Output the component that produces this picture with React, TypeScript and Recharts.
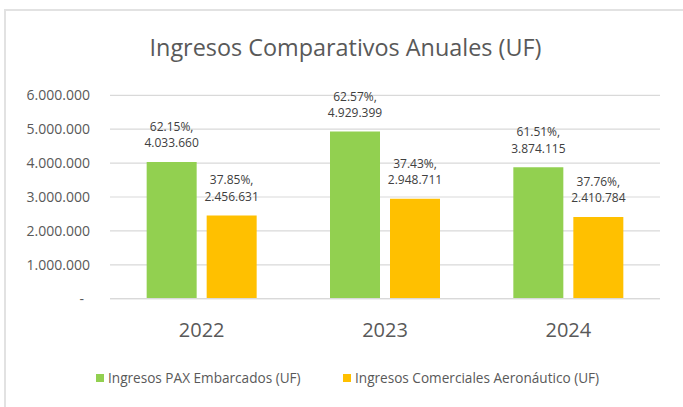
import React from 'react';
import { BarChart, Bar, XAxis, YAxis, CartesianGrid, Legend, LabelList } from 'recharts';

const years = ['2022', '2023', '2024'];
const paxValues = [4033660, 4929399, 3874115];
const comValues = [2456631, 2948711, 2410784];
const paxPct = [62.15, 62.57, 61.51];
const comPct = [37.85, 37.43, 37.76];
const yTicks = [0, 1000000, 2000000, 3000000, 4000000, 5000000, 6000000];
const seriesNames = ['Ingresos PAX Embarcados (UF)', 'Ingresos Comerciales Aeronáutico (UF)'];
const title = 'Ingresos Comparativos Anuales (UF)';

const data = years.map((y, i) => ({ year: y, pax: paxValues[i], com: comValues[i] }));

const FONT = '"Open Sans", "Noto Sans", sans-serif';
const GREEN = '#92D050';
const ORANGE = '#FFC000';

const fmt = (v: number) => String(Math.round(v)).replace(/\B(?=(\d{3})+(?!\d))/g, '.');

const YTick = (props: any) => {
  const { x, y, payload } = props;
  const v = payload.value as number;
  return (
    <text
      x={v === 0 ? x - 6 : x}
      y={y}
      dy={4.8}
      textAnchor="end"
      fill="#595959"
      fontSize={14}
      fontFamily={FONT}
    >
      {v === 0 ? '-' : fmt(v)}
    </text>
  );
};

const makeLabel = (pcts: number[]) => (props: any) => {
  const { x, y, width, value, index } = props;
  const cx = x + width / 2;
  return (
    <text textAnchor="middle" fill="#404040" fontSize={12} fontFamily={FONT}>
      <tspan x={cx} y={y - 31}>{pcts[index].toFixed(2) + '%,'}</tspan>
      <tspan x={cx} y={y - 14.5}>{fmt(value)}</tspan>
    </text>
  );
};

const legendLefts = [96, 343];

const renderLegend = () => (
  <div style={{ position: 'relative', width: 683, height: 24 }}>
    {seriesNames.map((name, i) => (
      <div
        key={name}
        style={{
          position: 'absolute',
          left: legendLefts[i],
          top: 0,
          display: 'flex',
          alignItems: 'center',
          fontFamily: FONT,
          fontSize: 13.6,
          color: '#595959',
          whiteSpace: 'nowrap',
          lineHeight: '18px',
        }}
      >
        <span
          style={{
            display: 'inline-block',
            width: 8,
            height: 8,
            background: i === 0 ? GREEN : ORANGE,
            marginRight: 4,
          }}
        />
        {name}
      </div>
    ))}
  </div>
);

export default function App() {
  return (
    <div style={{ position: 'absolute', left: 0, top: 0, width: 683, height: 407, overflow: 'hidden', background: '#fff' }}>
      <div
        style={{
          position: 'absolute',
          left: 4,
          top: 9,
          width: 700,
          height: 420,
          border: '2px solid #E2E2E2',
          boxSizing: 'border-box',
        }}
      />
      <svg style={{ position: 'absolute', left: 0, top: 0, pointerEvents: 'none' }} width={683} height={407}>
        <text x={345.5} y={55.5} textAnchor="middle" fill="#595959" fontSize={23.4} fontFamily={FONT}>
          {title}
        </text>
      </svg>
      <div style={{ position: 'absolute', left: 0, top: 0 }}>
        <BarChart
          width={683}
          height={407}
          data={data}
          margin={{ top: 95.3, right: 23, bottom: 78.3, left: 0 }}
          barCategoryGap="20%"
          barGap={10}
        >
          <CartesianGrid vertical={false} stroke="#D9D9D9" strokeWidth={1.2} />
          <XAxis
            dataKey="year"
            axisLine={{ stroke: '#D9D9D9', strokeWidth: 1.2 }}
            tickLine={false}
            tickMargin={18}
            height={30}
            tick={{ fill: '#595959', fontSize: 20, fontFamily: FONT }}
          />
          <YAxis
            width={110}
            domain={[0, 6000000]}
            ticks={yTicks}
            axisLine={false}
            tickLine={false}
            tickMargin={14}
            tick={<YTick />}
            interval={0}
          />
          <Legend
            verticalAlign="middle"
            align="center"
            layout="horizontal"
            content={renderLegend}
            wrapperStyle={{ top: 369, left: 0, width: 683 }}
          />
          <Bar dataKey="pax" name={seriesNames[0]} fill={GREEN} isAnimationActive={false}>
            <LabelList dataKey="pax" content={makeLabel(paxPct)} />
          </Bar>
          <Bar dataKey="com" name={seriesNames[1]} fill={ORANGE} isAnimationActive={false}>
            <LabelList dataKey="com" content={makeLabel(comPct)} />
          </Bar>
        </BarChart>
      </div>
    </div>
  );
}
